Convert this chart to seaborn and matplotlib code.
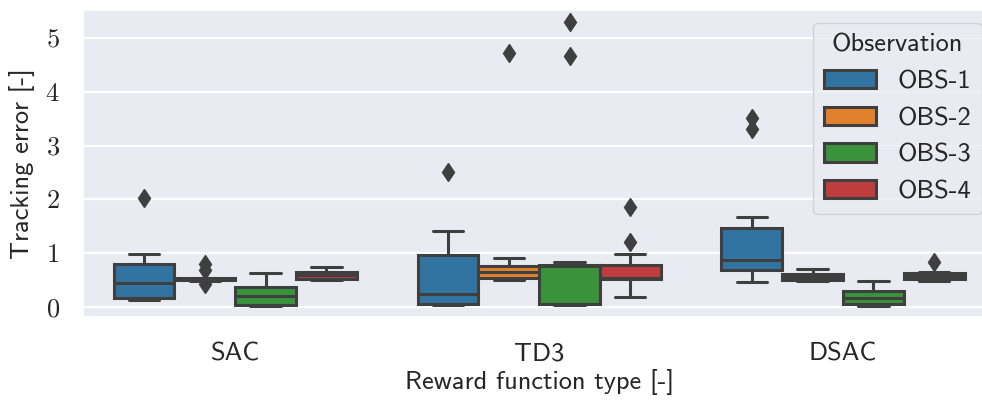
import numpy as np
import pandas as pd
import matplotlib
matplotlib.use("Agg")
import matplotlib.pyplot as plt
from matplotlib.ticker import FuncFormatter, MultipleLocator
import seaborn as sns

# Valores (error de seguimiento por corrida)
algoritmos = ["SAC", "TD3", "DSAC"]
observaciones = ["OBS-1", "OBS-2", "OBS-3", "OBS-4"]

sac_obs1 = [0.14, 0.15, 0.17, 0.30, 0.46, 0.62, 0.81, 0.98, 2.02]
sac_obs2 = [0.43, 0.49, 0.50, 0.51, 0.52, 0.53, 0.54, 0.70, 0.80]
sac_obs3 = [0.03, 0.04, 0.05, 0.12, 0.21, 0.30, 0.38, 0.50, 0.63]
sac_obs4 = [0.50, 0.51, 0.53, 0.56, 0.60, 0.62, 0.65, 0.70, 0.75]

td3_obs1 = [0.04, 0.05, 0.06, 0.15, 0.24, 0.60, 0.97, 1.42, 2.51]
td3_obs2 = [0.50, 0.52, 0.55, 0.60, 0.65, 0.70, 0.76, 0.92, 4.72]
td3_obs3 = [0.04, 0.05, 0.06, 0.07, 0.30, 0.60, 0.77, 0.77, 0.78, 0.78, 0.84, 4.67, 5.29]
td3_obs4 = [0.19, 0.40, 0.50, 0.52, 0.52, 0.53, 0.55, 0.65, 0.72, 0.78, 0.99, 1.21, 1.87]

dsac_obs1 = [0.47, 0.55, 0.62, 0.69, 0.75, 0.82, 0.87, 1.05, 1.30, 1.47, 1.68, 3.30, 3.52]
dsac_obs2 = [0.49, 0.50, 0.51, 0.54, 0.56, 0.60, 0.62, 0.68, 0.72]
dsac_obs3 = [0.02, 0.05, 0.07, 0.12, 0.18, 0.24, 0.30, 0.40, 0.48]
dsac_obs4 = [0.49, 0.51, 0.52, 0.56, 0.58, 0.61, 0.64, 0.66, 0.84]

datos = {
    "SAC": [sac_obs1, sac_obs2, sac_obs3, sac_obs4],
    "TD3": [td3_obs1, td3_obs2, td3_obs3, td3_obs4],
    "DSAC": [dsac_obs1, dsac_obs2, dsac_obs3, dsac_obs4],
}

filas = []
for alg in algoritmos:
    for obs, valores in zip(observaciones, datos[alg]):
        for v in valores:
            filas.append({"Reward function type [-]": alg, "Observation": obs, "Tracking error [-]": v})
df = pd.DataFrame(filas)

sns.set_theme(style="darkgrid", rc={"grid.linewidth": 1.6})
plt.rcParams["font.family"] = ["cmss10", "DejaVu Sans"]
plt.rcParams["mathtext.fontset"] = "cm"
plt.rcParams["axes.unicode_minus"] = False

FS = 19
gris = "#3f3f3f"

fig = plt.figure(figsize=(9.82, 4.01), dpi=100)
ax = fig.add_axes([0.0848, 0.2087, 1.0132 - 0.0848, 0.975 - 0.2087])

sns.boxplot(
    data=df,
    x="Reward function type [-]",
    y="Tracking error [-]",
    hue="Observation",
    order=algoritmos,
    hue_order=observaciones,
    palette="tab10",
    linecolor=gris,
    linewidth=2.2,
    fliersize=9.5,
    flierprops=dict(marker="d", markerfacecolor=gris, markeredgecolor=gris),
    saturation=0.75,
    ax=ax,
)

ax.set_ylim(-0.185, 5.514)
ax.set_xlim(-0.5, 2.5)
ax.yaxis.set_major_locator(MultipleLocator(1))
ax.yaxis.set_major_formatter(FuncFormatter(lambda v, p: f"${v:g}$"))
ax.tick_params(axis="y", labelsize=FS, pad=11)
ax.tick_params(axis="x", labelsize=FS, pad=12)
ax.set_xlabel("Reward function type [-]", fontsize=FS, labelpad=3)
ax.set_ylabel("Tracking error [-]", fontsize=FS, labelpad=7)

sns.move_legend(ax, "upper right", fontsize=FS, title_fontsize=FS, title="Observation")

fig.savefig("out.png", dpi=100)
plt.close(fig)
